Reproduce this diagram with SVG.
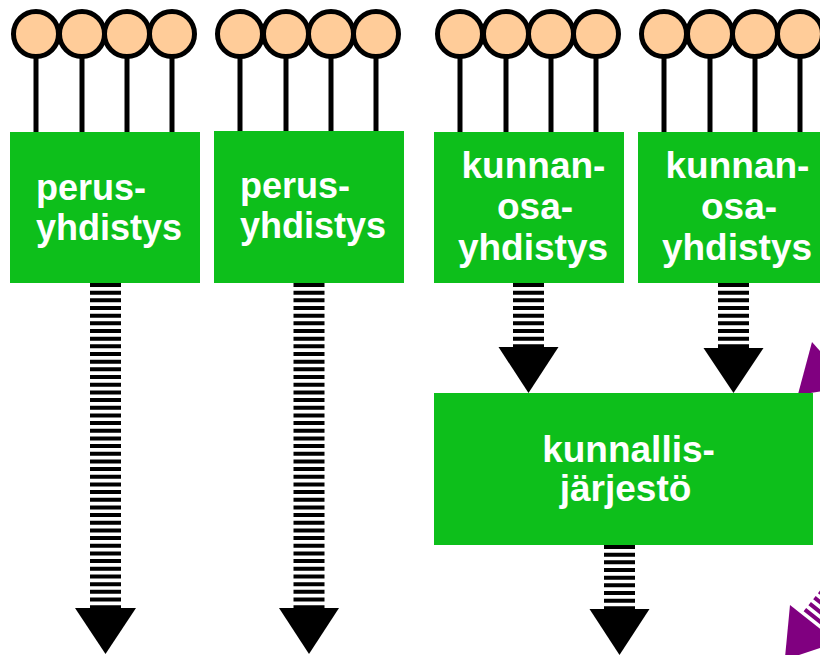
<svg xmlns="http://www.w3.org/2000/svg" width="820" height="655" viewBox="0 0 820 655">
<style>
.stem{stroke:#000;stroke-width:5}
.ball{fill:#ffcc99;stroke:#000;stroke-width:5}
.box{fill:#0dbf1b}
.lbl{font-family:"Liberation Sans",Arial,sans-serif;font-weight:bold;font-size:36px;fill:#fff}
.big{font-size:37px}
.mid{text-anchor:middle}
.shaft{stroke:#000;stroke-width:31;stroke-dasharray:4 3.67}
.head{fill:#000}
.pshaft{stroke:#800080;stroke-width:31;stroke-dasharray:4 3.67;stroke-dashoffset:4}
.phead{fill:#800080}
</style>
<rect width="820" height="655" fill="#fff"/>
<g id="connectors">
<line class="shaft" x1="105.5" y1="283" x2="105.5" y2="608"/>
<polygon class="head" points="75,608 136,608 105.5,654"/>
<line class="shaft" x1="309" y1="283" x2="309" y2="608"/>
<polygon class="head" points="279,608 339,608 309,654"/>
<line class="shaft" x1="528.5" y1="283" x2="528.5" y2="347"/>
<polygon class="head" points="498.5,347 558.5,347 528.5,393"/>
<line class="shaft" x1="733.5" y1="283" x2="733.5" y2="348"/>
<polygon class="head" points="703.5,348 763.5,348 733.5,393"/>
<line class="shaft" x1="619.5" y1="545" x2="619.5" y2="609"/>
<polygon class="head" points="589.5,609 649.5,609 619.5,655"/>
<line class="pshaft" x1="813.5" y1="623.7" x2="876" y2="545"/>
<polygon class="phead" points="790,605 837,642.4 784.8,659.7"/>
<line class="pshaft" x1="832" y1="364.3" x2="906" y2="297.6"/>
<polygon class="phead" points="812,342 852.1,386.6 797.8,395.1"/>
</g>
<g id="node-perus1">
<line class="stem" x1="36" y1="55" x2="36" y2="133"/>
<line class="stem" x1="82" y1="55" x2="82" y2="133"/>
<line class="stem" x1="127" y1="55" x2="127" y2="133"/>
<line class="stem" x1="172" y1="55" x2="172" y2="133"/>
<circle class="ball" cx="36" cy="34" r="22.5"/>
<circle class="ball" cx="82" cy="34" r="22.5"/>
<circle class="ball" cx="127" cy="34" r="22.5"/>
<circle class="ball" cx="172" cy="34" r="22.5"/>
<rect class="box" x="10" y="132" width="190" height="151"/>
<text class="lbl" x="36" y="200">perus-</text>
<text class="lbl" x="36" y="240">yhdistys</text>
</g>
<g id="node-perus2">
<line class="stem" x1="240" y1="55" x2="240" y2="133"/>
<line class="stem" x1="286" y1="55" x2="286" y2="133"/>
<line class="stem" x1="331" y1="55" x2="331" y2="133"/>
<line class="stem" x1="376" y1="55" x2="376" y2="133"/>
<circle class="ball" cx="240" cy="34" r="22.5"/>
<circle class="ball" cx="286" cy="34" r="22.5"/>
<circle class="ball" cx="331" cy="34" r="22.5"/>
<circle class="ball" cx="376" cy="34" r="22.5"/>
<rect class="box" x="214" y="131" width="190" height="152"/>
<text class="lbl" x="240" y="198">perus-</text>
<text class="lbl" x="240" y="238">yhdistys</text>
</g>
<g id="node-kunnanosa1">
<line class="stem" x1="460" y1="55" x2="460" y2="133"/>
<line class="stem" x1="506" y1="55" x2="506" y2="133"/>
<line class="stem" x1="551" y1="55" x2="551" y2="133"/>
<line class="stem" x1="596" y1="55" x2="596" y2="133"/>
<circle class="ball" cx="460" cy="34" r="22.5"/>
<circle class="ball" cx="506" cy="34" r="22.5"/>
<circle class="ball" cx="551" cy="34" r="22.5"/>
<circle class="ball" cx="596" cy="34" r="22.5"/>
<rect class="box" x="434" y="132" width="190" height="151"/>
<text class="lbl big mid" x="533.5" y="178">kunnan-</text>
<text class="lbl big mid" x="535" y="219">osa-</text>
<text class="lbl big mid" x="533" y="260">yhdistys</text>
</g>
<g id="node-kunnanosa2">
<line class="stem" x1="664" y1="55" x2="664" y2="133"/>
<line class="stem" x1="710" y1="55" x2="710" y2="133"/>
<line class="stem" x1="755" y1="55" x2="755" y2="133"/>
<line class="stem" x1="800" y1="55" x2="800" y2="133"/>
<circle class="ball" cx="664" cy="34" r="22.5"/>
<circle class="ball" cx="710" cy="34" r="22.5"/>
<circle class="ball" cx="755" cy="34" r="22.5"/>
<circle class="ball" cx="800" cy="34" r="22.5"/>
<rect class="box" x="638" y="132" width="190" height="151"/>
<text class="lbl big mid" x="737.5" y="178">kunnan-</text>
<text class="lbl big mid" x="739" y="219">osa-</text>
<text class="lbl big mid" x="737" y="260">yhdistys</text>
</g>
<g id="node-kunnallisjarjesto">
<rect class="box" x="434" y="393" width="379" height="152"/>
<text class="lbl big mid" x="628.5" y="462">kunnallis-</text>
<text class="lbl big mid" x="625.5" y="501">järjestö</text>
</g>
</svg>
